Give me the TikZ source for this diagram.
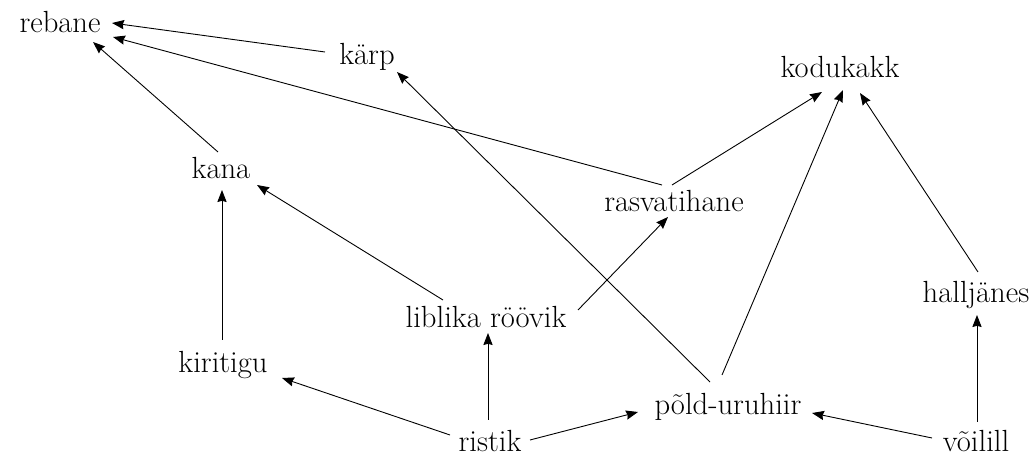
\documentclass[tikz,border=0pt]{standalone}
\usetikzlibrary{arrows.meta,calc}
\begin{document}
\begin{tikzpicture}[x=0.5pt,y=-0.5pt,
  lbl/.style={anchor=base,inner sep=3pt,font=\fontsize{15.3}{18}\selectfont},
  edge/.style={-{Stealth[length=6pt,width=4.6pt,inset=0.6pt]},line width=0.45pt}]
\useasboundingbox (0,0) rectangle (1035,459);
\node[lbl] (rebane) at (60,33) {rebane};
\node[lbl] (karp) at (367,65) {kärp};
\node[lbl] (kodukakk) at (840,78) {kodukakk};
\node[lbl] (kana) at (221,179) {kana};
\node[lbl] (rasva) at (674,212) {rasvatihane};
\node[lbl] (hall) at (976,303) {halljänes};
\node[lbl] (libl) at (486,328) {liblika röövik};
\node[lbl] (kiri) at (223,373) {kiritigu};
\node[lbl] (pold) at (728,415) {põld-uruhiir};
\node[lbl] (ristik) at (490,452) {ristik};
\node[lbl] (voilill) at (976,452) {võilill};
\draw[edge] ($(karp.base)+(-42,-13)$) -- ($(rebane.base)+(52,-10)$);
\draw[edge] ($(rasva.base)+(-12,-27)$) -- ($(rebane.base)+(53,4)$);
\draw[edge] ($(kana.base)+(-3,-27)$) -- ($(rebane.base)+(33,9)$);
\draw[edge] ($(pold.base)+(-18,-33)$) -- ($(karp.base)+(30,7)$);
\draw[edge] ($(rasva.base)+(-2,-27)$) -- ($(kodukakk.base)+(-18,14)$);
\draw[edge] ($(pold.base)+(-6,-40)$) -- ($(kodukakk.base)+(3,12)$);
\draw[edge] ($(hall.base)+(2,-31)$) -- ($(kodukakk.base)+(20,15)$);
\draw[edge] ($(libl.base)+(-43,-28)$) -- ($(kana.base)+(36,6)$);
\draw[edge] ($(kiri.base)+(-1,-33)$) -- ($(kana.base)+(1,11)$);
\draw[edge] ($(libl.base)+(92,-18)$) -- ($(rasva.base)+(-6,5)$);
\draw[edge] ($(ristik.base)+(-40,-17)$) -- ($(kiri.base)+(59,5)$);
\draw[edge] ($(ristik.base)+(-2,-32)$) -- ($(libl.base)+(2,5)$);
\draw[edge] ($(ristik.base)+(40,-12)$) -- ($(pold.base)+(-90,-3)$);
\draw[edge] ($(voilill.base)+(-44,-14)$) -- ($(pold.base)+(84,-2)$);
\draw[edge] ($(voilill.base)+(1,-30)$) -- ($(hall.base)+(1,12)$);
\end{tikzpicture}
\end{document}
